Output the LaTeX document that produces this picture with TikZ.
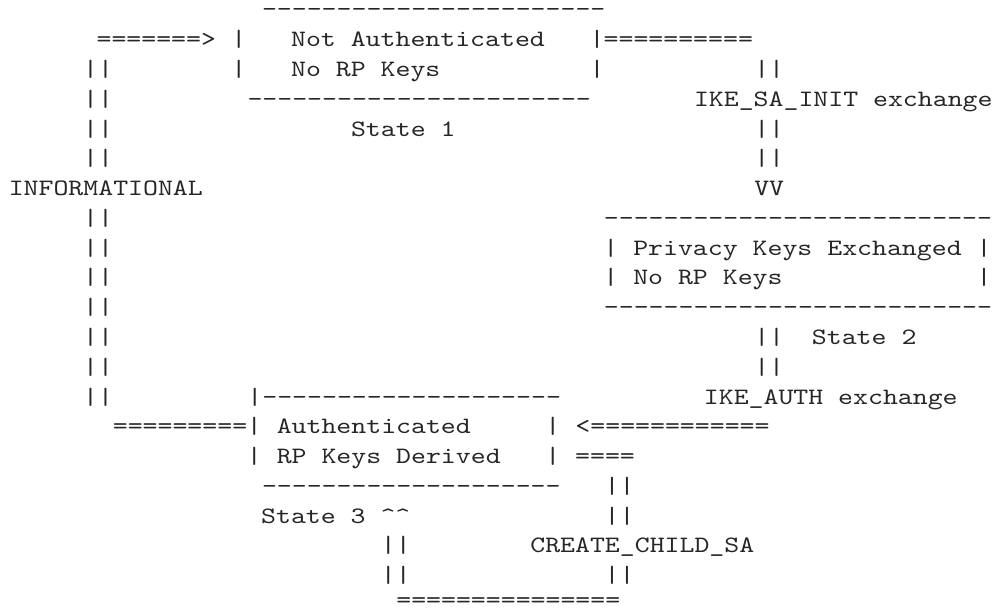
\documentclass[tikz,border=0pt]{standalone}
\usepackage{fontspec}
\usepackage{tikz}
\newfontfamily\asciifont{lmmono10-regular.otf}[Ligatures=TeXOff,FakeStretch=1.21]

\begin{document}
\begin{tikzpicture}[x=1pt,y=-29.77pt,node distance=29.77pt]
		\tikzstyle{every node}=[font=\asciifont\fontsize{23.5}{28}\selectfont,inner sep=0pt,
		text height=19pt,text depth=6pt,text=black!85]
		\tikzstyle{row}=[anchor=base]
		
		\useasboundingbox (0,-0.571) rectangle (995,19.886);
		
		\node[row] (b1top) at (433.7,0) {-----------------------};
		\node[row] (in1)   at (156.3,1) {=======>};
		\node[row] (b1r1)  at (418,1)   {|~~~Not Authenticated~~~|};
		\node[row] (out1)  at (678.3,1) {==========};
		\node[row] (b1r2)  at (418,2)   {|~~~No RP Keys~~~~~~~~~~|};
		\node[row] (b1bot) at (419.2,3) {-----------------------};
		\node[row] (b1state) at (403.3,4) {State 1};
		
		\node[row] (up2) at (98,2) {||};
		\node (up3) [below of=up2] {||};
		\node (up4) [below of=up3] {||};
		\node (up5) [below of=up4] {||};
		\node[row] (info) at (105.8,6) {INFORMATIONAL};
		\node[row] (dn7) at (98,7) {||};
		\node (dn8)  [below of=dn7]  {||};
		\node (dn9)  [below of=dn8]  {||};
		\node (dn10) [below of=dn9]  {||};
		\node (dn11) [below of=dn10] {||};
		\node (dn12) [below of=dn11] {||};
		\node (dn13) [below of=dn12] {||};
		\node[row] (back14) at (180,14) {=========};
		
		\node[row] (init2) at (769.2,2) {||};
		\node[row] (initlabel) at (843.3,3) {IKE\_SA\_INIT exchange};
		\node[row] (init4) at (769.2,4) {||};
		\node (init5) [below of=init4] {||};
		\node (init6) [below of=init5] {VV};
		
		\node[row] (b2top)   at (798,7)   {--------------------------};
		\node[row] (b2r1)    at (797.5,8) {| Privacy Keys Exchanged |};
		\node[row] (b2r2)    at (797.5,9) {| No RP Keys~~~~~~~~~~~~~|};
		\node[row] (b2bot)   at (798,10)  {--------------------------};
		\node[row] (auth11)  at (769.2,11) {||};
		\node[row] (b2state) at (864.2,11) {State 2};
		\node (auth12) [below of=auth11] {||};
		\node[row] (authlabel) at (830.8,13) {IKE\_AUTH exchange};
		\node[row] (in14) at (672.5,14) {<============};
		
		\node[row] (b3top)   at (404.2,13) {|--------------------};
		\node[row] (b3r1)    at (403.7,14) {| Authenticated~~~~~|};
		\node[row] (b3r2)    at (403.7,15) {| RP Keys Derived~~~|};
		\node[row] (b3bot)   at (411.3,16) {--------------------};
		\node[row] (b3state) at (335.8,17) {State 3 \textasciicircum\textasciicircum};
		
		\node[row] (child15) at (605,15) {====};
		\node[row] (child16) at (619.5,16) {||};
		\node (child17) [below of=child16] {||};
		\node[row] (childlabel) at (642.3,18) {CREATE\_CHILD\_SA};
		\node[row] (child19) at (619.5,19) {||};
		\node[row] (ret18) at (395.8,18) {||};
		\node (ret19) [below of=ret18] {||};
		\node[row,text depth=0pt] (childbot) at (508.3,19.84) {===============};
		\end{tikzpicture}
\end{document}
